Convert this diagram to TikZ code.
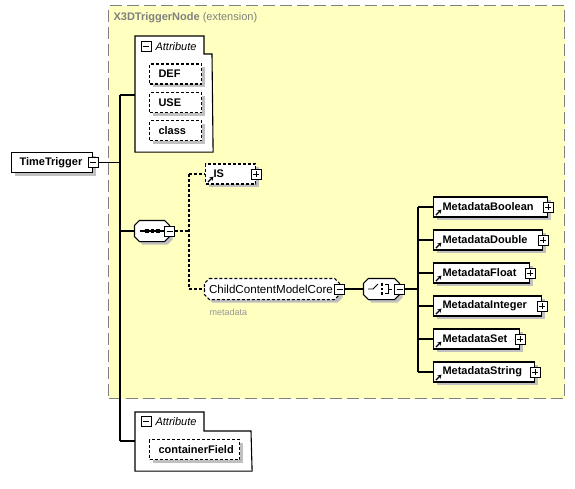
\documentclass[tikz,border=0pt]{standalone}
\usepackage{fontspec}
\setmainfont{Liberation Sans}
\usetikzlibrary{shadows,arrows.meta}
\definecolor{yel}{RGB}{255,255,192}
\definecolor{bord}{RGB}{128,128,128}
\definecolor{shad}{RGB}{192,192,192}
\definecolor{lbl}{RGB}{150,150,150}
\newcommand{\octpath}[2]{%
  \draw[#2] ([xshift=5pt]#1.north west) -- ([xshift=-5pt]#1.north east) -- ([yshift=-5pt]#1.north east) -- ([yshift=5pt]#1.south east) -- ([xshift=-5pt]#1.south east) -- ([xshift=5pt]#1.south west) -- ([yshift=5pt]#1.south west) -- ([yshift=-5pt]#1.north west) -- cycle;}
\begin{document}
\begin{tikzpicture}[x=1pt,y=-1pt,line width=1.1pt,
  shd/.style={general shadow={fill=shad,shadow xshift=3pt,shadow yshift=-3pt}},
  elem/.style={draw,fill=white,shd,anchor=west,minimum height=20pt,inner ysep=0pt,inner xsep=9pt,align=left,font=\fontsize{11}{13}\selectfont\bfseries},
  opt/.style={elem,dash pattern=on 3pt off 2pt},
  holder/.style={draw=none,inner sep=0pt,anchor=center},
  dsh/.style={dash pattern=on 3pt off 2pt},
  minusbox/.pic={\draw[fill=white,line width=0.9pt] (-5,-5) rectangle (5,5); \draw[line width=0.9pt] (-3,0) -- (3,0);},
  plusbox/.pic={\draw[fill=white,line width=0.9pt] (-5,-5) rectangle (5,5); \draw[line width=0.9pt] (-3,0) -- (3,0) (0,-3) -- (0,3);},
  refarrow/.pic={\draw[line width=1.3pt,-{Stealth[length=4pt,width=4.5pt]}] (3,-2.5) -- (8.5,-8);}
]
\useasboundingbox (0,0) rectangle (575,488);
% extension container
\node[draw=bord,fill=yel,dash pattern=on 12pt off 5pt,minimum width=456pt,minimum height=393pt,anchor=north west,inner sep=0pt] (ext) at (108,5) {};
\node[anchor=west,text=bord,font=\fontsize{11}{13}\selectfont,inner sep=0pt] (exttitle) at (113,18) {\textbf{X3DTriggerNode} (extension)};

% attribute group 1
\node[holder,anchor=north west,minimum width=77pt,minimum height=115pt] (att1) at (135,36) {};
\draw[fill=white] (att1.north west) -- (204,36) -- (204,54) -- (212,54) -- (att1.south east) -- (att1.south west) -- cycle;
\pic at (146,46.5) {minusbox};
\node[anchor=west,inner sep=0pt,font=\fontsize{11}{13}\selectfont\itshape] (att1t) at (155,46.5) {Attribute};
\node[opt,text width=34pt] (def) at (149,74) {DEF};
\node[opt,text width=34pt] (use) at (149,102.5) {USE};
\node[opt,text width=34pt] (cls) at (149,130.5) {class};

% attribute group 2
\node[holder,anchor=north west,minimum width=116pt,minimum height=58pt] (att2) at (135,412) {};
\draw[fill=white] (att2.north west) -- (204,412) -- (204,431) -- (251,431) -- (att2.south east) -- (att2.south west) -- cycle;
\pic at (146,421.5) {minusbox};
\node[anchor=west,inner sep=0pt,font=\fontsize{11}{13}\selectfont\itshape] (att2t) at (155,421.5) {Attribute};
\node[opt,text width=72pt] (cf) at (149,449.5) {containerField};

% root
\node[elem,inner xsep=8pt,text width=65pt] (tt) at (11,162.5) {TimeTrigger};
\pic at (tt.east) {minusbox};
\coordinate (bt) at (120,95);
\coordinate (bb) at (120,441);
\draw ([xshift=5pt]tt.east) -- (tt.east -| bt);
\draw (bt) -- (bb);
\draw (bt) -- (att1.west |- bt);
\draw (bb) -- (att2.west |- bb);

% sequence
\node[holder,minimum width=34pt,minimum height=20pt] (seq) at (152,231) {};
\octpath{seq}{fill=white,shd}
\draw (140,231) -- (165,231);
\foreach \xx in {147,152.5,158} \fill (\xx-1.8,229.2) rectangle (\xx+1.8,232.8);
\pic at (seq.east) {minusbox};
\draw (bt |- seq) -- (seq.west);
\coordinate (sb) at (189,231);
\draw[dsh] ([xshift=5pt]seq.east) -- (sb);

% IS
\node[opt,text width=34pt,inner xsep=8pt] (is) at (205,174) {IS};
\pic at (is.east) {plusbox};
\pic at (is.south west) {refarrow};

% ChildContentModelCore
\node[holder,minimum width=134pt,minimum height=20pt] (ccmc) at (272,289) {};
\octpath{ccmc}{fill=white,shd,dsh}
\node[anchor=west,inner sep=0pt,font=\fontsize{11.6}{13}\selectfont] (ccmct) at (208.5,289) {ChildContentModelCore};
\pic at (ccmc.east) {minusbox};
\node[anchor=west,inner sep=0pt,text=lbl,font=\fontsize{9}{11}\selectfont] (meta) at (209,312) {metadata};

\draw[dsh] (sb |- is) -- (sb |- ccmc);
\draw[dsh] (sb |- is) -- (is.west);
\draw[dsh] (sb |- ccmc) -- (ccmc.west);

% choice
\node[holder,minimum width=35pt,minimum height=20pt] (ch) at (381.5,289) {};
\octpath{ch}{fill=white,shd}
\draw[line width=0.9pt] (368,289) -- (373,289) -- (378,284);
\foreach \yy in {284.5,289,293.5} \fill (380.6,\yy-1.3) rectangle (383.2,\yy+1.3);
\draw[line width=0.9pt] (385,284.5) -- (388,284.5) -- (388,293.5) -- (385,293.5) (388,289) -- (392,289);
\pic at (ch.east) {minusbox};
\draw ([xshift=5pt]ccmc.east) -- (ch.west);
\coordinate (cb) at (418,289);
\draw ([xshift=5pt]ch.east) -- (cb);

% metadata elements
\node[elem,text width=96pt] (mb) at (433,207) {MetadataBoolean};
\node[elem,text width=91pt] (md) at (433,240) {MetadataDouble};
\node[elem,text width=78pt] (mf) at (433,273) {MetadataFloat};
\node[elem,text width=90pt] (mi) at (433,306) {MetadataInteger};
\node[elem,text width=68pt] (ms) at (433,339) {MetadataSet};
\node[elem,text width=83pt] (mst) at (433,372) {MetadataString};
\foreach \n in {mb,md,mf,mi,ms,mst}{
  \pic at (\n.east) {plusbox};
  \pic at (\n.south west) {refarrow};
  \draw (cb |- \n) -- (\n.west);
}
\draw (cb |- mb) -- (cb |- mst);
\end{tikzpicture}
\end{document}
